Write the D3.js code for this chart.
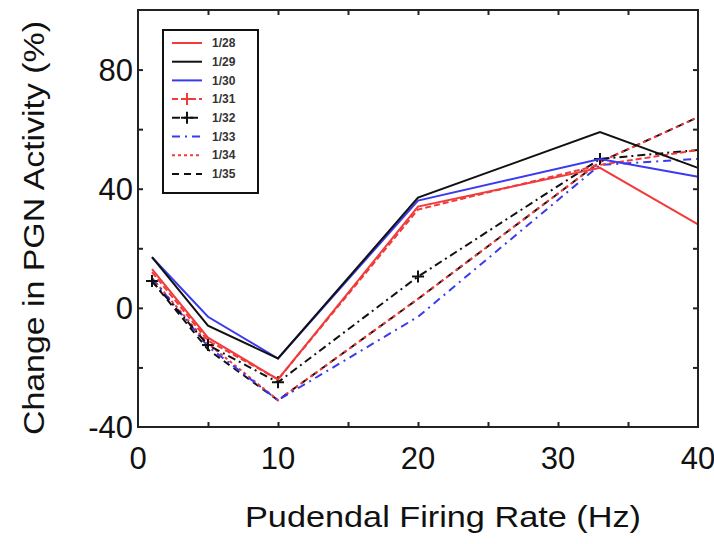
<!DOCTYPE html>
<html>
<head>
<meta charset="utf-8">
<script src="https://cdn.jsdelivr.net/npm/d3@7"></script>
<style>
  body { margin: 0; background: #fff; }
  svg { display: block; font-family: "Liberation Sans", Arial, sans-serif; }
</style>
</head>
<body>
<div id="chart"></div>
<script>
// firing rates (Hz)
const rates = [1, 5, 10, 20, 33, 40];

const seriesNames = ["1/28", "1/29", "1/30", "1/31", "1/32", "1/33", "1/34", "1/35"];
const s28 = [13, -10, -24, 34, 47, 28];
const s29 = [17, -6, -17, 37, 59, 47];
const s30 = [17, -3, -17, 36, 50, 44];
const s31 = [12, -11, -24, 33, 48, 53];
const s32 = [9, -12.5, -25, 10.5, 50, 53];
const s33 = [10, -13, -31, -3, 48, 50];
const s34 = [10, -12, -31, 3, 49, 64];
const s35 = [9, -14, -31, 3, 49, 64];
const seriesValues = [s28, s29, s30, s31, s32, s33, s34, s35];

const xTicks = [0, 10, 20, 30, 40];
const yTicks = [-40, 0, 40, 80];

const width = 714, height = 544;
const margin = { left: 138, right: 16, top: 10, bottom: 117 };

const RED = "#f23a3a", BLACK = "#111", BLUE = "#3a3af0";
const styleOf = (name) => {
  switch (name) {
    case "1/28": return { color: RED, dash: null, mark: false, legendMark: false };
    case "1/29": return { color: BLACK, dash: null, mark: false, legendMark: false };
    case "1/30": return { color: BLUE, dash: null, mark: false, legendMark: false };
    case "1/31": return { color: RED, dash: "6,3", mark: false, legendMark: true };
    case "1/32": return { color: BLACK, dash: "8,4,2,4", mark: true, legendMark: true };
    case "1/33": return { color: BLUE, dash: "8,5,2,5", mark: false, legendMark: false };
    case "1/34": return { color: RED, dash: "3,3", mark: false, legendMark: false };
    case "1/35": return { color: BLACK, dash: "7,5", mark: false, legendMark: false };
    default: return { color: BLACK, dash: null, mark: false, legendMark: false };
  }
};

const svg = d3.select("#chart").append("svg")
  .attr("width", width)
  .attr("height", height);

const x = d3.scaleLinear().domain([0, 40]).range([margin.left, width - margin.right]);
const y = d3.scaleLinear().domain([-40, 100]).range([height - margin.bottom, margin.top]);

// minor ticks, pointing inward on all four sides
const axisStyle = (g) => {
  g.select(".domain").remove();
  g.selectAll("text").remove();
  g.selectAll("line").attr("stroke", "#222").attr("stroke-width", 2);
};
svg.append("g").attr("transform", `translate(0,${y(-40)})`)
  .call(d3.axisBottom(x).tickValues(d3.range(5, 40, 5)).tickSize(-5)).call(axisStyle);
svg.append("g").attr("transform", `translate(0,${y(100)})`)
  .call(d3.axisTop(x).tickValues(d3.range(5, 40, 5)).tickSize(-5)).call(axisStyle);
svg.append("g").attr("transform", `translate(${x(0)},0)`)
  .call(d3.axisLeft(y).tickValues(d3.range(-20, 100, 20)).tickSize(-5)).call(axisStyle);
svg.append("g").attr("transform", `translate(${x(40)},0)`)
  .call(d3.axisRight(y).tickValues(d3.range(-20, 100, 20)).tickSize(-5)).call(axisStyle);

// tick labels
svg.append("g").selectAll("text")
  .data(xTicks).join("text")
  .attr("x", d => x(d))
  .attr("y", y(-40) + 42)
  .attr("text-anchor", "middle")
  .attr("font-size", 31)
  .attr("fill", "#111")
  .text(d => d);

svg.append("g").selectAll("text")
  .data(yTicks).join("text")
  .attr("x", x(0) - 5)
  .attr("y", d => y(d))
  .attr("dy", "0.36em")
  .attr("text-anchor", "end")
  .attr("font-size", 31)
  .attr("fill", "#111")
  .text(d => d);

// axis titles
svg.append("text")
  .attr("x", 443)
  .attr("y", 527)
  .attr("text-anchor", "middle")
  .attr("font-size", 29)
  .attr("textLength", 396)
  .attr("lengthAdjust", "spacingAndGlyphs")
  .attr("fill", "#111")
  .text("Pudendal Firing Rate (Hz)");

svg.append("text")
  .attr("transform", `translate(44,228) rotate(-90)`)
  .attr("text-anchor", "middle")
  .attr("font-size", 29)
  .attr("textLength", 414)
  .attr("lengthAdjust", "spacingAndGlyphs")
  .attr("fill", "#111")
  .text("Change in PGN Activity (%)");

// series
const line = d3.line()
  .x(d => x(d[0]))
  .y(d => y(d[1]));

const plot = svg.append("g");
const plusPath = (cx, cy, r) => `M${cx - r},${cy}H${cx + r}M${cx},${cy - r}V${cy + r}`;

// draw in reverse so solid lines end up on top
seriesNames.slice().reverse().forEach((name) => {
  const vals = seriesValues[seriesNames.indexOf(name)];
  const pts = rates.map((r, i) => [r, vals[i]]);
  const st = styleOf(name);
  plot.append("path")
    .datum(pts)
    .attr("fill", "none")
    .attr("stroke", st.color)
    .attr("stroke-width", 2)
    .attr("stroke-dasharray", st.dash)
    .attr("d", line);
  if (st.mark) {
    plot.append("g").selectAll("path")
      .data(pts.slice(0, 5)).join("path")
      .attr("d", d => plusPath(x(d[0]), y(d[1]), 6))
      .attr("stroke", st.color)
      .attr("stroke-width", 2);
  }
});

// frame
svg.append("rect")
  .attr("x", x(0))
  .attr("y", y(100))
  .attr("width", x(40) - x(0))
  .attr("height", y(-40) - y(100))
  .attr("fill", "none")
  .attr("stroke", "#222")
  .attr("stroke-width", 2);

// legend
const legend = svg.append("g").attr("transform", "translate(163,30)");
legend.append("rect")
  .attr("width", 95)
  .attr("height", 163)
  .attr("fill", "#fff")
  .attr("stroke", "#111")
  .attr("stroke-width", 2);

const row = legend.selectAll("g.row")
  .data(seriesNames).join("g")
  .attr("class", "row")
  .attr("transform", (d, i) => `translate(0,${13 + i * 18.7})`);

row.append("line")
  .attr("x1", 9).attr("x2", 39)
  .attr("stroke", d => styleOf(d).color)
  .attr("stroke-width", 2)
  .attr("stroke-dasharray", d => styleOf(d).dash);

row.filter(d => styleOf(d).legendMark).append("path")
  .attr("d", plusPath(24, 0, 6))
  .attr("stroke", d => styleOf(d).color)
  .attr("stroke-width", 2);

row.append("text")
  .attr("x", 49)
  .attr("dy", "0.35em")
  .attr("font-size", 12)
  .attr("font-weight", "bold")
  .attr("fill", "#333")
  .text(d => d);
</script>
</body>
</html>
